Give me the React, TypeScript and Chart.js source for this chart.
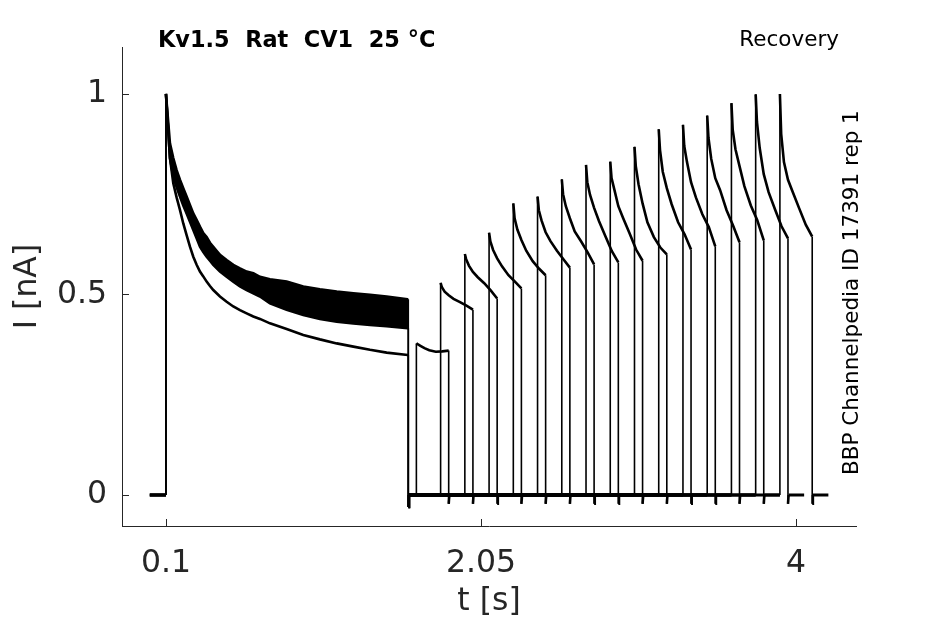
import React, { useEffect, useRef } from "react";
import { Chart, registerables } from "chart.js";

Chart.register(...registerables);

// ---- data ----
const prepulseStart = 0.1;
const prepulseEnd = 1.6;
const prepulseEndSpike = -0.03;

const prepulseTimes = [
  0.1, 0.1248, 0.1454, 0.166, 0.1867, 0.2073, 0.2279, 0.2486, 0.2692, 0.2899,
  0.3105, 0.3311, 0.3518, 0.3724, 0.393, 0.4343, 0.4756, 0.5168, 0.5581, 0.5994,
  0.6407, 0.6819, 0.7438, 0.847, 0.95, 1.053, 1.157, 1.26, 1.363, 1.466, 1.596,
];

const bandUpper = [
  1.0, 0.877, 0.84, 0.81, 0.786, 0.765, 0.744, 0.723, 0.702, 0.686,
  0.669, 0.653, 0.643, 0.629, 0.619, 0.599, 0.586, 0.574, 0.565, 0.557,
  0.553, 0.544, 0.538, 0.532, 0.52, 0.513, 0.507, 0.503, 0.499, 0.495, 0.488,
];

const bandLower = [
  1.0, 0.84, 0.794, 0.768, 0.744, 0.722, 0.702, 0.681, 0.661, 0.64,
  0.619, 0.606, 0.594, 0.584, 0.574, 0.557, 0.544, 0.532, 0.52, 0.511,
  0.503, 0.495, 0.478, 0.462, 0.449, 0.439, 0.432, 0.428, 0.424, 0.421, 0.416,
];

const lowTrace = [
  1.0, 0.84, 0.777, 0.742, 0.711, 0.677, 0.648, 0.619, 0.594, 0.574,
  0.557, 0.545, 0.532, 0.521, 0.511, 0.495, 0.482, 0.47, 0.461, 0.453,
  0.445, 0.439, 0.428, 0.414, 0.399, 0.388, 0.378, 0.37, 0.362, 0.355, 0.349,
];

const pulseStarts = [
  1.65, 1.8, 1.95, 2.1, 2.25, 2.4, 2.55, 2.7, 2.85, 3.0, 3.15, 3.3, 3.45, 3.6, 3.75, 3.9,
];
const pulseDuration = 0.2;
const traceTail = 0.1;
const pulseEndSpike = -0.022;

const pulseRelTimes = [0, 0.008, 0.025, 0.05, 0.08, 0.12, 0.16, 0.2];

const pulse01 = [0.378, 0.376, 0.372, 0.366, 0.361, 0.357, 0.358, 0.36];
const pulse02 = [0.529, 0.518, 0.507, 0.498, 0.489, 0.481, 0.472, 0.462];
const pulse03 = [0.601, 0.588, 0.572, 0.556, 0.543, 0.528, 0.51, 0.49];
const pulse04 = [0.654, 0.632, 0.611, 0.59, 0.57, 0.548, 0.532, 0.515];
const pulse05 = [0.727, 0.69, 0.662, 0.636, 0.609, 0.583, 0.564, 0.548];
const pulse06 = [0.744, 0.71, 0.684, 0.655, 0.633, 0.609, 0.588, 0.567];
const pulse07 = [0.787, 0.75, 0.72, 0.69, 0.657, 0.632, 0.605, 0.575];
const pulse08 = [0.823, 0.78, 0.748, 0.716, 0.683, 0.645, 0.608, 0.58];
const pulse09 = [0.831, 0.79, 0.762, 0.72, 0.69, 0.652, 0.612, 0.584];
const pulse10 = [0.868, 0.82, 0.775, 0.727, 0.68, 0.643, 0.617, 0.6];
const pulse11 = [0.912, 0.86, 0.806, 0.765, 0.725, 0.68, 0.65, 0.612];
const pulse12 = [0.923, 0.87, 0.83, 0.78, 0.742, 0.7, 0.668, 0.62];
const pulse13 = [0.946, 0.89, 0.838, 0.79, 0.76, 0.71, 0.672, 0.63];
const pulse14 = [0.977, 0.91, 0.862, 0.82, 0.77, 0.722, 0.685, 0.635];
const pulse15 = [0.999, 0.93, 0.865, 0.8, 0.755, 0.712, 0.67, 0.64];
const pulse16 = [1.0, 0.9, 0.83, 0.786, 0.755, 0.714, 0.674, 0.644];

const pulseValues = [
  pulse01, pulse02, pulse03, pulse04, pulse05, pulse06, pulse07, pulse08,
  pulse09, pulse10, pulse11, pulse12, pulse13, pulse14, pulse15, pulse16,
];

const xTicks = [0.1, 2.05, 4];
const yTicks = [0, 0.5, 1];
const xMin = -0.172;
const xMax = 4.371;
const yMin = -0.0773;
const yMax = 1.117;

const titleText = "Kv1.5  Rat  CV1  25 °C";
const protocolText = "Recovery";
const sideText = "BBP Channelpedia ID 17391 rep 1";
const xTitle = "t [s]";
const yTitle = "I [nA]";

// ---- helpers ----
type Pt = { x: number; y: number };

function prepulsePoints(vals: number[]): Pt[] {
  const pts: Pt[] = [
    { x: 0, y: 0 },
    { x: prepulseStart, y: 0 },
  ];
  prepulseTimes.forEach((t, i) => pts.push({ x: t, y: vals[i] }));
  pts.push({ x: prepulseEnd, y: vals[vals.length - 1] });
  pts.push({ x: prepulseEnd, y: prepulseEndSpike });
  pts.push({ x: prepulseEnd + 0.004, y: 0 });
  return pts;
}

function testPoints(k: number): Pt[] {
  const ts = pulseStarts[k];
  const te = ts + pulseDuration;
  const pts: Pt[] = [
    { x: prepulseEnd + 0.004, y: 0 },
    { x: ts, y: 0 },
  ];
  pulseRelTimes.forEach((r, i) => pts.push({ x: ts + r, y: pulseValues[k][i] }));
  pts.push({ x: te, y: pulseEndSpike });
  pts.push({ x: te + 0.004, y: 0 });
  pts.push({ x: te + traceTail, y: 0 });
  return pts;
}

const fmt = (v: number) => String(Math.round(v * 1000) / 1000);

// segment width: vertical jumps thin, baseline thick (noisy in the original), decays medium
const segWidth = (ctx: any) => {
  const a = ctx.p0.parsed;
  const b = ctx.p1.parsed;
  if (a.x === b.x) return 1.6;
  if (a.y === 0 && b.y === 0) return 3;
  return 2.6;
};

export default function App() {
  const ref = useRef<HTMLCanvasElement | null>(null);

  useEffect(() => {
    if (!ref.current) return;
    Chart.defaults.font.family = "'DejaVu Sans', sans-serif";

    const lineBase = {
      type: "line" as const,
      borderColor: "#000000",
      borderWidth: 2.6,
      pointRadius: 0,
      tension: 0,
      fill: false,
      segment: { borderWidth: segWidth },
    };

    const datasets: any[] = [
      { ...lineBase, label: "band upper", data: prepulsePoints(bandUpper) },
      {
        ...lineBase,
        label: "band lower",
        data: prepulsePoints(bandLower),
        fill: "-1",
        backgroundColor: "#000000",
      },
      { ...lineBase, label: "low trace", data: prepulsePoints(lowTrace) },
    ];
    pulseValues.forEach((_, k) => {
      datasets.push({ ...lineBase, label: "test " + (k + 1), data: testPoints(k) });
    });

    const decor = {
      id: "decor",
      afterDraw(chart: any) {
        const { ctx, chartArea, scales } = chart;
        const xs = scales.x;
        const ys = scales.y;
        ctx.save();
        ctx.strokeStyle = "#262626";
        ctx.lineWidth = 1;
        ctx.beginPath();
        xs.ticks.forEach((t: any) => {
          const px = Math.round(xs.getPixelForValue(t.value)) + 0.5;
          ctx.moveTo(px, chartArea.bottom);
          ctx.lineTo(px, chartArea.bottom - 7);
        });
        ys.ticks.forEach((t: any) => {
          const py = Math.round(ys.getPixelForValue(t.value)) + 0.5;
          ctx.moveTo(chartArea.left, py);
          ctx.lineTo(chartArea.left + 7, py);
        });
        ctx.stroke();

        ctx.fillStyle = "#000000";
        ctx.textBaseline = "alphabetic";
        ctx.font = "bold 22.4px 'DejaVu Sans'";
        ctx.textAlign = "left";
        ctx.fillText(titleText, 158, 46.5);

        ctx.font = "21.5px 'DejaVu Sans'";
        ctx.textAlign = "right";
        ctx.fillText(protocolText, 839, 46);

        ctx.translate(858, 475);
        ctx.rotate(-Math.PI / 2);
        ctx.textAlign = "left";
        ctx.fillText(sideText, 0, 0);
        ctx.restore();
      },
    };

    const chart = new Chart(ref.current, {
      type: "line",
      data: { datasets },
      options: {
        animation: false,
        responsive: false,
        parsing: false,
        normalized: true,
        events: [],
        layout: { padding: { left: 0, top: 47, right: 89, bottom: 0 } },
        plugins: {
          legend: { display: false },
          tooltip: { enabled: false },
          title: { display: false },
        },
        elements: { line: { borderJoinStyle: "miter" } },
        scales: {
          x: {
            type: "linear",
            position: "bottom",
            min: xMin,
            max: xMax,
            afterBuildTicks: (s: any) => {
              s.ticks = xTicks.map((v) => ({ value: v }));
            },
            afterFit: (s: any) => {
              s.height = 98;
            },
            grid: { display: false, drawTicks: false },
            border: { display: true, color: "#262626", width: 1 },
            ticks: {
              color: "#262626",
              font: { size: 31.5 },
              padding: 19,
              maxRotation: 0,
              autoSkip: false,
              callback: (v: any) => fmt(Number(v)),
            },
            title: {
              display: true,
              text: xTitle,
              color: "#262626",
              font: { size: 31.5 },
              padding: { top: 0, bottom: 3 },
            },
          },
          y: {
            type: "linear",
            position: "left",
            min: yMin,
            max: yMax,
            afterBuildTicks: (s: any) => {
              s.ticks = yTicks.map((v) => ({ value: v }));
            },
            afterFit: (s: any) => {
              s.width = 122;
            },
            grid: { display: false, drawTicks: false },
            border: { display: true, color: "#262626", width: 1 },
            ticks: {
              color: "#262626",
              font: { size: 31.5 },
              padding: 15,
              autoSkip: false,
              callback: (v: any) => fmt(Number(v)),
            },
            title: {
              display: true,
              text: yTitle,
              color: "#262626",
              font: { size: 31.5 },
              padding: { top: 8.5, bottom: 0 },
            },
          },
        },
      } as any,
      plugins: [decor],
    });

    return () => chart.destroy();
  }, []);

  return (
    <div
      style={{
        position: "absolute",
        left: 0,
        top: 0,
        width: 945,
        height: 624,
        background: "#ffffff",
      }}
    >
      <canvas ref={ref} width={945} height={624} style={{ display: "block", width: 945, height: 624 }} />
    </div>
  );
}
